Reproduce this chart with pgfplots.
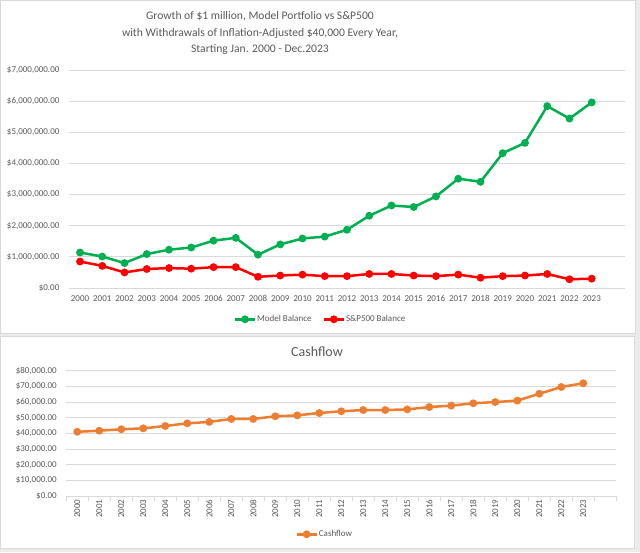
\documentclass[border=0pt]{standalone}
\usepackage{pgfplots}
\usepackage{pgfplotstable}
\pgfplotsset{compat=1.18}
\usepackage{fontspec}
\setmainfont{Carlito}
\definecolor{txt}{HTML}{595959}
\definecolor{gridc}{HTML}{D9D9D9}
\definecolor{mgreen}{HTML}{00B050}
\definecolor{mred}{HTML}{FF0000}
\definecolor{morange}{HTML}{ED7D31}
\definecolor{bg}{HTML}{EBEBEB}

\pgfplotstableread{
x model sp cash
0 1140000 850000 41000
1 1010000 710000 41700
2 800000 500000 42600
3 1090000 610000 43200
4 1230000 640000 44700
5 1300000 620000 46400
6 1520000 670000 47300
7 1610000 670000 49200
8 1070000 360000 49200
9 1400000 400000 50900
10 1590000 430000 51500
11 1650000 380000 53000
12 1870000 380000 54100
13 2320000 450000 54900
14 2650000 450000 54900
15 2600000 400000 55300
16 2940000 380000 56800
17 3510000 430000 57700
18 3410000 330000 59200
19 4330000 380000 60000
20 4660000 400000 60900
21 5840000 450000 65300
22 5440000 280000 69600
23 5960000 300000 72000
}\data

\pgfplotsset{
  excel/.style={
    scale only axis,
    xmin=-0.5, xmax=24.5,
    axis lines=left,
    axis line style={draw=gridc,-,line width=0.8pt},
    y axis line style={draw=none},
    ymajorgrids,
    grid style={gridc,line width=0.8pt},
    major tick length=0pt,
    scaled y ticks=false,
    tick label style={text=txt,font=\fontsize{9}{11}\selectfont},
    xtick={0,...,23},
    xticklabels={2000,2001,2002,2003,2004,2005,2006,2007,2008,2009,2010,2011,2012,2013,2014,2015,2016,2017,2018,2019,2020,2021,2022,2023},
    y tick label style={xshift=-6pt},
    legend cell align=left,
    legend style={draw=none,fill=none,text=txt,font=\fontsize{9}{11}\selectfont,
      /tikz/every even column/.append style={column sep=10pt},
      nodes={inner sep=1pt}},
    legend image code/.code={\draw[mark repeat=2,mark phase=2,##1] plot coordinates {(0pt,0pt) (10pt,0pt) (20pt,0pt)};},
  },
  ser/.style={line width=2.5pt, mark=*, mark size=2.6pt, mark options={solid}},
}

\begin{document}
\begin{tikzpicture}[x=1pt,y=1pt]
\fill[bg] (0,0) rectangle (640,552);
\filldraw[fill=white,draw=gridc] (0.5,551.5) rectangle (635,219);
\filldraw[fill=white,draw=gridc] (0.5,216) rectangle (634,3.5);
\node[align=center,text=txt,font=\fontsize{11.6}{16.7}\selectfont] at (260,519) {Growth of \$1 million, Model Portfolio vs S\&P500\\with Withdrawals of Inflation-Adjusted \$40,000 Every Year,\\Starting Jan. 2000 - Dec.2023};
\node[text=txt,font=\fontsize{14}{17}\selectfont] at (317,200.5) {Cashflow};

\begin{axis}[excel, at={(68.9pt,264pt)}, anchor=south west,
  width=556.2pt, height=218pt,
  ymin=0, ymax=7000000,
  ytick={0,1000000,2000000,3000000,4000000,5000000,6000000,7000000},
  yticklabels={\$0.00,{\$1,000,000.00},{\$2,000,000.00},{\$3,000,000.00},{\$4,000,000.00},{\$5,000,000.00},{\$6,000,000.00},{\$7,000,000.00}},
  x tick label style={yshift=-4pt},
  legend columns=2,
  legend style={at={(0.4515,-0.1436)},anchor=center},
]
\addplot[ser, mgreen] table[x=x,y=model] {\data};
\addlegendentry{Model Balance}
\addplot[ser, mred] table[x=x,y=sp] {\data};
\addlegendentry{S\&P500 Balance}
\end{axis}

\begin{axis}[excel, at={(66.3pt,56pt)}, anchor=south west,
  width=550pt, height=125.3pt,
  ymin=0, ymax=80000,
  ytick={0,10000,20000,30000,40000,50000,60000,70000,80000},
  yticklabels={\$0.00,{\$10,000.00},{\$20,000.00},{\$30,000.00},{\$40,000.00},{\$50,000.00},{\$60,000.00},{\$70,000.00},{\$80,000.00}},
  x tick label style={rotate=90,anchor=east,yshift=0pt},
  minor xtick={-0.5,0.5,...,24.5},
  minor tick length=5pt,
  tick align=outside,
  minor tick style={gridc,line width=0.8pt},
  legend style={at={(0.469,-0.3057)},anchor=center},
]
\addplot[ser, morange] table[x=x,y=cash] {\data};
\addlegendentry{Cashflow}
\end{axis}
\end{tikzpicture}
\end{document}
